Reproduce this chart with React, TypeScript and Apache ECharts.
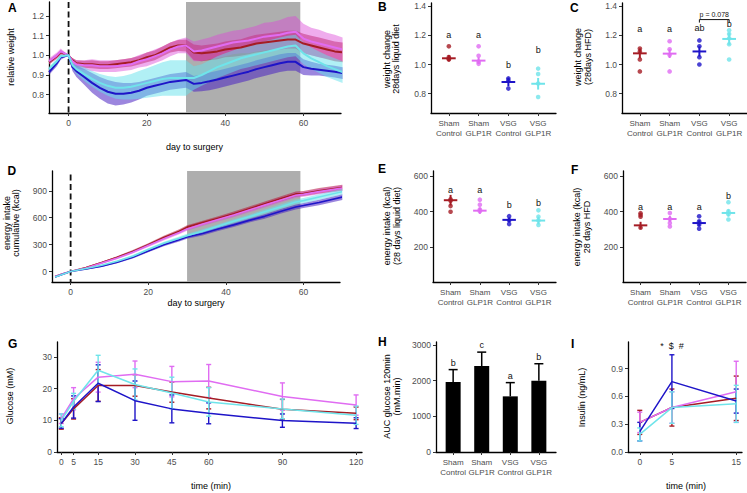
import React, { useEffect, useRef } from 'react';
import * as echarts from 'echarts';

const FONT = "'Liberation Sans', Arial, Helvetica, sans-serif";
const catLabels = ['Sham\nControl', 'Sham\nGLP1R', 'VSG\nControl', 'VSG\nGLP1R'];
const lineColors = ['#A51C24', '#E06CF2', '#1E14C8', '#6FE4EA'];
const ribbonColors = ['rgba(180,30,60,0.55)', 'rgba(220,70,215,0.45)', 'rgba(75,35,195,0.55)', 'rgba(100,225,235,0.5)'];

// ---- Panel A: relative weight ----
const weightDays = [-5, -3, -2, 0, 1, 2, 4, 6, 8, 10, 12, 14, 16, 18, 20, 22, 24, 26, 28, 30, 32, 34, 36, 38, 40, 42, 44, 46, 48, 50, 52, 54, 56, 58, 60, 62, 64, 66, 68, 70];
const wShamCtrl = [0.965, 0.995, 1.015, 1.0, 0.975, 0.96, 0.955, 0.955, 0.95, 0.95, 0.955, 0.96, 0.965, 0.975, 0.99, 1.0, 1.02, 1.04, 1.05, 1.05, 1.015, 1.01, 1.015, 1.02, 1.03, 1.035, 1.04, 1.05, 1.06, 1.065, 1.07, 1.075, 1.08, 1.08, 1.06, 1.05, 1.04, 1.03, 1.02, 1.015];
const wShamCtrlSd = [0.012, 0.012, 0.012, 0, 0.012, 0.015, 0.018, 0.02, 0.02, 0.02, 0.02, 0.02, 0.022, 0.022, 0.025, 0.025, 0.025, 0.025, 0.028, 0.03, 0.04, 0.04, 0.04, 0.04, 0.04, 0.042, 0.042, 0.045, 0.045, 0.045, 0.045, 0.045, 0.045, 0.045, 0.05, 0.05, 0.05, 0.05, 0.05, 0.05];
const wShamGlp = [0.97, 1.0, 1.02, 1.0, 0.97, 0.955, 0.95, 0.95, 0.945, 0.945, 0.945, 0.95, 0.955, 0.97, 0.98, 0.995, 1.01, 1.03, 1.045, 1.05, 1.02, 1.025, 1.035, 1.045, 1.055, 1.065, 1.07, 1.075, 1.085, 1.095, 1.1, 1.105, 1.115, 1.12, 1.085, 1.07, 1.06, 1.05, 1.04, 1.03];
const wShamGlpSd = [0.015, 0.015, 0.015, 0, 0.015, 0.02, 0.025, 0.03, 0.03, 0.03, 0.03, 0.03, 0.03, 0.032, 0.035, 0.035, 0.035, 0.035, 0.035, 0.04, 0.05, 0.055, 0.055, 0.06, 0.06, 0.06, 0.06, 0.065, 0.065, 0.07, 0.07, 0.075, 0.08, 0.08, 0.075, 0.07, 0.07, 0.065, 0.065, 0.06];
const wVsgCtrl = [0.915, 0.96, 0.99, 1.0, 0.94, 0.92, 0.89, 0.86, 0.835, 0.815, 0.805, 0.805, 0.81, 0.82, 0.835, 0.845, 0.855, 0.865, 0.87, 0.875, 0.855, 0.86, 0.868, 0.877, 0.887, 0.897, 0.907, 0.917, 0.93, 0.94, 0.95, 0.96, 0.967, 0.967, 0.94, 0.932, 0.927, 0.922, 0.917, 0.91];
const wVsgCtrlSd = [0.015, 0.015, 0.012, 0, 0.02, 0.03, 0.04, 0.05, 0.055, 0.06, 0.06, 0.055, 0.05, 0.045, 0.04, 0.04, 0.04, 0.04, 0.04, 0.04, 0.04, 0.042, 0.045, 0.045, 0.045, 0.045, 0.045, 0.045, 0.045, 0.045, 0.045, 0.045, 0.045, 0.045, 0.04, 0.035, 0.03, 0.03, 0.03, 0.03];
const wVsgGlp = [0.93, 0.97, 0.995, 1.0, 0.95, 0.93, 0.905, 0.88, 0.86, 0.845, 0.835, 0.835, 0.84, 0.85, 0.86, 0.87, 0.88, 0.885, 0.885, 0.885, 0.885, 0.9, 0.92, 0.94, 0.955, 0.97, 0.985, 0.995, 1.005, 1.015, 1.025, 1.035, 1.045, 1.05, 1.01, 0.985, 0.965, 0.945, 0.93, 0.915];
const wVsgGlpSd = [0.012, 0.012, 0.01, 0, 0.015, 0.025, 0.035, 0.04, 0.045, 0.05, 0.055, 0.06, 0.065, 0.07, 0.075, 0.08, 0.085, 0.09, 0.09, 0.09, 0.06, 0.055, 0.055, 0.055, 0.055, 0.055, 0.055, 0.055, 0.055, 0.055, 0.055, 0.055, 0.055, 0.055, 0.055, 0.055, 0.055, 0.055, 0.055, 0.055];
const surgeryShade = [30, 59.2];

// ---- Panel D: cumulative energy intake ----
const intakeDays = [-4, -2, 0, 4, 8, 12, 16, 20, 24, 28, 30, 34, 38, 42, 46, 50, 54, 58, 60, 64, 70];
const eiShamCtrl = [-55, -25, 0, 45, 100, 160, 225, 300, 380, 450, 495, 545, 595, 645, 700, 755, 810, 865, 870, 900, 935];
const eiShamGlp = [-55, -25, 0, 40, 95, 150, 215, 290, 365, 435, 475, 530, 580, 630, 685, 740, 795, 850, 860, 890, 930];
const eiVsgCtrl = [-60, -30, 0, 30, 60, 105, 160, 230, 300, 355, 385, 425, 475, 520, 570, 615, 670, 720, 735, 770, 830];
const eiVsgGlp = [-60, -30, 0, 35, 70, 115, 170, 245, 315, 370, 400, 450, 505, 560, 610, 665, 720, 775, 790, 830, 890];
const eiSd = [8, 5, 0, 8, 10, 12, 14, 16, 18, 20, 20, 22, 22, 24, 24, 26, 26, 28, 28, 30, 32];

// ---- Panel B: weight change 28 days liquid diet ----
const bPoints = [[1.125, 1.052, 1.04, 1.035], [1.125, 1.06, 1.02, 1.005], [0.905, 0.89, 0.835], [0.972, 0.935, 0.869, 0.777]];
const bMean = [1.043, 1.027, 0.88, 0.868];
const bSem = [0.022, 0.022, 0.03, 0.04];
const bLetters = ['a', 'a', 'b', 'b'];
const bLetterY = [1.2, 1.2, 1.0, 1.098];

// ---- Panel C: weight change 28 days HFD ----
const cPoints = [[1.11, 1.09, 1.035, 0.953], [1.16, 1.105, 1.065, 0.953], [1.166, 1.125, 1.05, 1.0], [1.235, 1.21, 1.18, 1.14, 1.035]];
const cMean = [1.077, 1.075, 1.09, 1.176];
const cSem = [0.034, 0.03, 0.035, 0.04];
const cLetters = ['a', 'a', 'ab', 'b'];
const cLetterY = [1.245, 1.245, 1.252, 1.281];
const cPText = 'p = 0.078';
const cPBracketY = 1.309;

// ---- Panel E: energy intake 28 days liquid diet ----
const ePoints = [[470, 462, 432, 400], [468, 440, 412, 402], [375, 352, 330], [408, 372, 350, 325]];
const eMean = [465, 406, 354, 350];
const eSem = [30, 18, 14, 22];
const eLetters = ['a', 'a', 'b', 'b'];
const eLetterY = [522, 522, 437, 450];

// ---- Panel F: energy intake 28 days HFD ----
const fPoints = [[392, 382, 372, 310], [393, 359, 336, 317], [374, 346, 327, 304], [454, 403, 385, 356]];
const fMean = [323, 359, 336, 393];
const fSem = [20, 18, 16, 20];
const fLetters = ['a', 'a', 'a', 'b'];
const fLetterY = [427, 427, 427, 488];

// ---- Panel G: glucose ----
const gTime = [0, 5, 15, 30, 45, 60, 90, 120];
const gShamCtrl = [9.0, 13.6, 21.0, 21.0, 18.9, 17.0, 13.5, 12.2];
const gShamCtrlSd = [1.8, 3.2, 5.0, 3.4, 3.2, 3.4, 3.1, 2.0];
const gShamGlp = [10.5, 16.8, 23.6, 24.5, 22.2, 22.4, 17.5, 14.8];
const gShamGlpSd = [1.5, 3.5, 4.7, 4.2, 4.8, 5.2, 4.3, 3.2];
const gVsgCtrl = [9.0, 14.2, 21.7, 16.2, 13.6, 12.2, 9.9, 9.1];
const gVsgCtrlSd = [1.5, 3.5, 5.8, 6.2, 4.4, 3.3, 2.1, 1.7];
const gVsgGlp = [10.0, 16.0, 25.8, 21.3, 18.6, 15.8, 13.6, 11.6];
const gVsgGlpSd = [2.0, 2.5, 4.7, 4.9, 5.0, 4.5, 3.1, 2.9];

// ---- Panel H: AUC glucose ----
const hMean = [1960, 2410, 1560, 2000];
const hSd = [350, 390, 385, 475];
const hLetters = ['b', 'c', 'a', 'b'];

// ---- Panel I: insulin ----
const iTime = [0, 5, 15];
const iShamCtrl = [0.32, 0.48, 0.58];
const iShamCtrlSd = [0.13, 0.2, 0.24];
const iShamGlp = [0.32, 0.48, 0.65];
const iShamGlpSd = [0.11, 0.17, 0.33];
const iVsgCtrl = [0.22, 0.76, 0.55];
const iVsgCtrlSd = [0.1, 0.29, 0.13];
const iVsgGlp = [0.19, 0.48, 0.52];
const iVsgGlpSd = [0.07, 0.17, 0.2];
const iSigText = '*  $  #';
const iSigPos = [5, 1.15];

function valueAxis(gi: number, min: number, max: number, ticks: number[], fmt: (v: number) => string, extra: any = {}) {
  return {
    type: 'value', gridIndex: gi, min, max,
    axisLine: { show: true, onZero: false, lineStyle: { color: '#000', width: 1.3 } },
    axisTick: { show: true, length: 3, lineStyle: { color: '#333', width: 1 }, customValues: ticks },
    axisLabel: { show: true, customValues: ticks, formatter: fmt, color: '#4D4D4D', fontSize: 8.5, fontFamily: FONT, margin: 5, lineHeight: 9.5, ...extra },
    splitLine: { show: false },
  };
}
const catAxis = (gi: number) => valueAxis(gi, 0.4, 4.6, [1, 2, 3, 4], (v: number) => catLabels[Math.round(v) - 1], { margin: 6, fontSize: 8 });

function shadeSeries(ai: number, yMin: number, yMax: number) {
  return {
    type: 'custom', xAxisIndex: ai, yAxisIndex: ai, silent: true, data: [[surgeryShade[0], surgeryShade[1]]], encode: { x: [0, 1] },
    renderItem: (p: any, api: any) => {
      const a = api.coord([api.value(0), yMax]);
      const b = api.coord([api.value(1), yMin]);
      return { type: 'rect', shape: { x: a[0], y: a[1], width: b[0] - a[0], height: b[1] - a[1] }, style: { fill: '#AEAEAE' } };
    },
  };
}
function dashSeries(ai: number, yMin: number, yMax: number) {
  return {
    type: 'custom', xAxisIndex: ai, yAxisIndex: ai, silent: true, data: [[0, yMin]], encode: { x: 0, y: 1 },
    renderItem: (p: any, api: any) => {
      const a = api.coord([0, yMax]);
      const b = api.coord([0, yMin]);
      return { type: 'line', shape: { x1: a[0], y1: a[1], x2: b[0], y2: b[1] }, style: { stroke: '#111', lineWidth: 1.8, lineDash: [6, 3.5] } };
    },
  };
}
function ribbonSeries(ai: number, xs: number[], mean: number[], sd: number[], color: string) {
  return {
    type: 'custom', xAxisIndex: ai, yAxisIndex: ai, silent: true, data: [[xs[0], mean[0]]], encode: { x: 0, y: 1 },
    renderItem: (p: any, api: any) => {
      const pts: number[][] = [];
      for (let i = 0; i < xs.length; i++) pts.push(api.coord([xs[i], mean[i] + sd[i]]));
      for (let i = xs.length - 1; i >= 0; i--) pts.push(api.coord([xs[i], mean[i] - sd[i]]));
      return { type: 'polygon', shape: { points: pts }, style: { fill: color } };
    },
  };
}
function lineSeries(ai: number, xs: number[], ys: number[], color: string, width: number) {
  return {
    type: 'line', xAxisIndex: ai, yAxisIndex: ai, silent: true, symbol: 'none',
    data: xs.map((x, i) => [x, ys[i]]), lineStyle: { color, width }, itemStyle: { color },
  };
}
function errSeries(ai: number, xs: number[], mean: number[], sd: number[], color: string, cap: number, width: number, upOnly = false) {
  return {
    type: 'custom', xAxisIndex: ai, yAxisIndex: ai, silent: true,
    data: xs.map((x, i) => [x, upOnly ? mean[i] : mean[i] - sd[i], mean[i] + sd[i]]), encode: { x: 0, y: [1, 2] },
    renderItem: (p: any, api: any) => {
      const a = api.coord([api.value(0), api.value(2)]);
      const b = api.coord([api.value(0), api.value(1)]);
      const st = { stroke: color, lineWidth: width };
      const ch: any[] = [
        { type: 'line', shape: { x1: a[0], y1: a[1], x2: b[0], y2: b[1] }, style: st },
        { type: 'line', shape: { x1: a[0] - cap, y1: a[1], x2: a[0] + cap, y2: a[1] }, style: st },
      ];
      if (!upOnly) ch.push({ type: 'line', shape: { x1: b[0] - cap, y1: b[1], x2: b[0] + cap, y2: b[1] }, style: st });
      return { type: 'group', children: ch };
    },
  };
}
function dotSeries(ai: number, pts: number[][]) {
  const data: any[] = [];
  pts.forEach((g, gi) => g.forEach(v => data.push({ value: [gi + 1, v], itemStyle: { color: lineColors[gi] } })));
  return { type: 'scatter', xAxisIndex: ai, yAxisIndex: ai, silent: true, symbolSize: 4.6, data };
}
function crossSeries(ai: number, mean: number[], sem: number[]) {
  return {
    type: 'custom', xAxisIndex: ai, yAxisIndex: ai, silent: true,
    data: mean.map((m, i) => [i + 1, m, sem[i]]), encode: { x: 0, y: 1 },
    renderItem: (p: any, api: any) => {
      const c = api.value(0), m = api.value(1), s = api.value(2);
      const col = lineColors[c - 1];
      const l = api.coord([c - 0.23, m]), r = api.coord([c + 0.23, m]);
      const t = api.coord([c, m + s]), b = api.coord([c, m - s]);
      const st = { stroke: col, lineWidth: 2 };
      return { type: 'group', children: [
        { type: 'line', shape: { x1: l[0], y1: l[1], x2: r[0], y2: r[1] }, style: st },
        { type: 'line', shape: { x1: t[0], y1: t[1], x2: b[0], y2: b[1] }, style: st },
      ] };
    },
  };
}
function textSeries(ai: number, xs: number[], ys: number[], texts: string[], size: number, dy = 0) {
  return {
    type: 'custom', xAxisIndex: ai, yAxisIndex: ai, silent: true,
    data: xs.map((x, i) => [x, ys[i], i]), encode: { x: 0, y: 1 },
    renderItem: (p: any, api: any) => {
      const pt = api.coord([api.value(0), api.value(1)]);
      return { type: 'text', x: pt[0], y: pt[1] + dy, style: { text: texts[api.value(2)], fill: '#111', fontSize: size, fontFamily: FONT, align: 'center', verticalAlign: 'middle' } };
    },
  };
}
function bracketSeries(ai: number) {
  return {
    type: 'custom', xAxisIndex: ai, yAxisIndex: ai, silent: true,
    data: [[3, 4, cPBracketY]], encode: { x: [0, 1], y: 2 },
    renderItem: (p: any, api: any) => {
      const a = api.coord([api.value(0), api.value(2)]);
      const b = api.coord([api.value(1), api.value(2)]);
      const st = { stroke: '#111', lineWidth: 1 };
      return { type: 'group', children: [
        { type: 'line', shape: { x1: a[0], y1: a[1], x2: b[0], y2: b[1] }, style: st },
        { type: 'line', shape: { x1: a[0], y1: a[1], x2: a[0], y2: a[1] + 3 }, style: st },
        { type: 'line', shape: { x1: b[0], y1: b[1], x2: b[0], y2: b[1] + 3 }, style: st },
        { type: 'text', x: (a[0] + b[0]) / 2, y: a[1] - 5, style: { text: cPText, fill: '#111', fontSize: 7, fontFamily: FONT, align: 'center', verticalAlign: 'middle' } },
      ] };
    },
  };
}
function gText(text: string, x: number, y: number, o: any = {}) {
  return {
    type: 'text', x, y, rotation: o.rot || 0, silent: true,
    style: { text, fill: '#000', fontSize: o.size || 9, fontFamily: FONT, fontWeight: o.weight || 'normal', align: o.align || 'center', verticalAlign: 'middle', lineHeight: o.lh || 10 },
  };
}

export default function App() {
  const ref = useRef<HTMLDivElement>(null);
  useEffect(() => {
    if (!ref.current) return;
    const chart = echarts.init(ref.current, undefined, { renderer: 'svg' });
    const f1 = (v: number) => v.toFixed(1);
    const f0 = (v: number) => String(Math.round(v));
    const wM = [wShamCtrl, wShamGlp, wVsgCtrl, wVsgGlp];
    const wS = [wShamCtrlSd, wShamGlpSd, wVsgCtrlSd, wVsgGlpSd];
    const eiM = [eiShamCtrl, eiShamGlp, eiVsgCtrl, eiVsgGlp];
    const gM = [gShamCtrl, gShamGlp, gVsgCtrl, gVsgGlp];
    const gS = [gShamCtrlSd, gShamGlpSd, gVsgCtrlSd, gVsgGlpSd];
    const iM = [iShamCtrl, iShamGlp, iVsgCtrl, iVsgGlp];
    const iS = [iShamCtrlSd, iShamGlpSd, iVsgCtrlSd, iVsgGlpSd];
    const A = { min: 0.707, max: 1.271 };
    const D = { min: -116, max: 1120 };
    const series: any[] = [];
    // A
    series.push(shadeSeries(0, A.min, A.max));
    series.push(dashSeries(0, A.min, A.max));
    wM.forEach((m, i) => series.push(lineSeries(0, weightDays, m, lineColors[i], 2)));
    wM.forEach((m, i) => series.push(ribbonSeries(0, weightDays, m, wS[i], ribbonColors[i])));
    // B, C
    series.push(dotSeries(1, bPoints), crossSeries(1, bMean, bSem), textSeries(1, [1, 2, 3, 4], bLetterY, bLetters, 9));
    series.push(dotSeries(2, cPoints), crossSeries(2, cMean, cSem), textSeries(2, [1, 2, 3, 4], cLetterY, cLetters, 9), bracketSeries(2));
    // D
    series.push(shadeSeries(3, D.min, D.max));
    series.push(dashSeries(3, D.min, 1080));
    eiM.forEach((m, i) => series.push(lineSeries(3, intakeDays, m, lineColors[i], 1.6)));
    eiM.forEach((m, i) => series.push(ribbonSeries(3, intakeDays, m, eiSd, ribbonColors[i])));
    // E, F
    series.push(dotSeries(4, ePoints), crossSeries(4, eMean, eSem), textSeries(4, [1, 2, 3, 4], eLetterY, eLetters, 9));
    series.push(dotSeries(5, fPoints), crossSeries(5, fMean, fSem), textSeries(5, [1, 2, 3, 4], fLetterY, fLetters, 9));
    // G
    gM.forEach((m, i) => {
      series.push(lineSeries(6, gTime, m, lineColors[i], 1.5));
      series.push(errSeries(6, gTime, m, gS[i], lineColors[i], 2.5, 1.4));
    });
    // H
    series.push({ type: 'bar', xAxisIndex: 7, yAxisIndex: 7, silent: true, barWidth: 15, data: hMean.map((v, i) => [i + 1, v]), itemStyle: { color: '#000' } });
    series.push(errSeries(7, [1, 2, 3, 4], hMean, hSd, '#000', 4.5, 1.5, true));
    series.push(textSeries(7, [1, 2, 3, 4], hMean.map((m, i) => m + hSd[i]), hLetters, 9, -7));
    // I
    iM.forEach((m, i) => {
      series.push(lineSeries(8, iTime, m, lineColors[i], 1.5));
      series.push(errSeries(8, iTime, m, iS[i], lineColors[i], 2.5, 1.4));
    });
    series.push(textSeries(8, [iSigPos[0]], [iSigPos[1]], [iSigText], 9));

    const option: any = {
      animation: false,
      backgroundColor: '#fff',
      grid: [
        { left: 49, top: 2, width: 292, height: 111 },
        { left: 431, top: 3, width: 125, height: 110 },
        { left: 622, top: 3, width: 125, height: 110 },
        { left: 52, top: 171, width: 288, height: 111 },
        { left: 433, top: 171, width: 123, height: 111 },
        { left: 623, top: 171, width: 123, height: 111 },
        { left: 57, top: 342, width: 305, height: 110 },
        { left: 436, top: 342, width: 120, height: 110 },
        { left: 628, top: 342, width: 114, height: 110 },
      ],
      xAxis: [
        valueAxis(0, -5, 69.6, [0, 20, 40, 60], f0),
        catAxis(1),
        catAxis(2),
        valueAxis(3, -4.8, 69.4, [0, 20, 40, 60], f0),
        catAxis(4),
        catAxis(5),
        valueAxis(6, -1.75, 122.4, gTime, f0),
        catAxis(7),
        valueAxis(8, -1.83, 15.9, iTime, f0),
      ],
      yAxis: [
        valueAxis(0, A.min, A.max, [0.8, 0.9, 1.0, 1.1, 1.2], f1),
        valueAxis(1, 0.667, 1.423, [0.8, 1.0, 1.2, 1.4], f1),
        valueAxis(2, 0.667, 1.423, [0.8, 1.0, 1.2, 1.4], f1),
        valueAxis(3, D.min, D.max, [0, 300, 600, 900], f0),
        valueAxis(4, 3, 630, [200, 400, 600], f0),
        valueAxis(5, 3, 630, [200, 400, 600], f0),
        valueAxis(6, 0, 34.7, [0, 10, 20, 30], f0),
        valueAxis(7, 0, 3084, [0, 1000, 2000, 3000], f0),
        valueAxis(8, 0, 1.188, [0, 0.3, 0.6, 0.9], f1),
      ],
      series,
      graphic: { elements: [
        gText('A', 8, 7.5, { size: 12, weight: 'bold', align: 'left' }),
        gText('B', 378, 7, { size: 12, weight: 'bold', align: 'left' }),
        gText('C', 570, 7.5, { size: 12, weight: 'bold', align: 'left' }),
        gText('D', 7.5, 171, { size: 12, weight: 'bold', align: 'left' }),
        gText('E', 378, 169, { size: 12, weight: 'bold', align: 'left' }),
        gText('F', 571, 170, { size: 12, weight: 'bold', align: 'left' }),
        gText('G', 8, 344, { size: 12, weight: 'bold', align: 'left' }),
        gText('H', 378, 342, { size: 12, weight: 'bold', align: 'left' }),
        gText('I', 571, 344, { size: 12, weight: 'bold', align: 'left' }),
        gText('relative weight', 11, 57, { rot: Math.PI / 2 }),
        gText('weight change\n28days liquid diet', 391, 59, { rot: Math.PI / 2, lh: 9 }),
        gText('weight change\n(28days HFD)', 582.5, 57, { rot: Math.PI / 2, lh: 10 }),
        gText('energy intake\ncumulative (kcal)', 11, 223, { rot: Math.PI / 2, lh: 9 }),
        gText('energy intake (kcal)\n(28 days liquid diet)', 391.5, 226, { rot: Math.PI / 2, lh: 10 }),
        gText('energy intake (kcal)\n28 days HFD', 581.5, 227, { rot: Math.PI / 2, lh: 10 }),
        gText('Glucose (mM)', 10, 396, { rot: Math.PI / 2 }),
        gText('AUC glucose 120min\n(mM.min)', 391.5, 396.5, { rot: Math.PI / 2, lh: 10 }),
        gText('Insulin (ng/mL)', 581.5, 397.5, { rot: Math.PI / 2 }),
        gText('day to surgery', 194.5, 147),
        gText('day to surgery', 196, 303),
        gText('time (min)', 211, 486),
        gText('time (min)', 686, 486),
      ] },
    };
    chart.setOption(option);
    return () => chart.dispose();
  }, []);
  return <div ref={ref} style={{ position: 'absolute', left: 0, top: 0, width: 747, height: 493, background: '#fff' }} />;
}
